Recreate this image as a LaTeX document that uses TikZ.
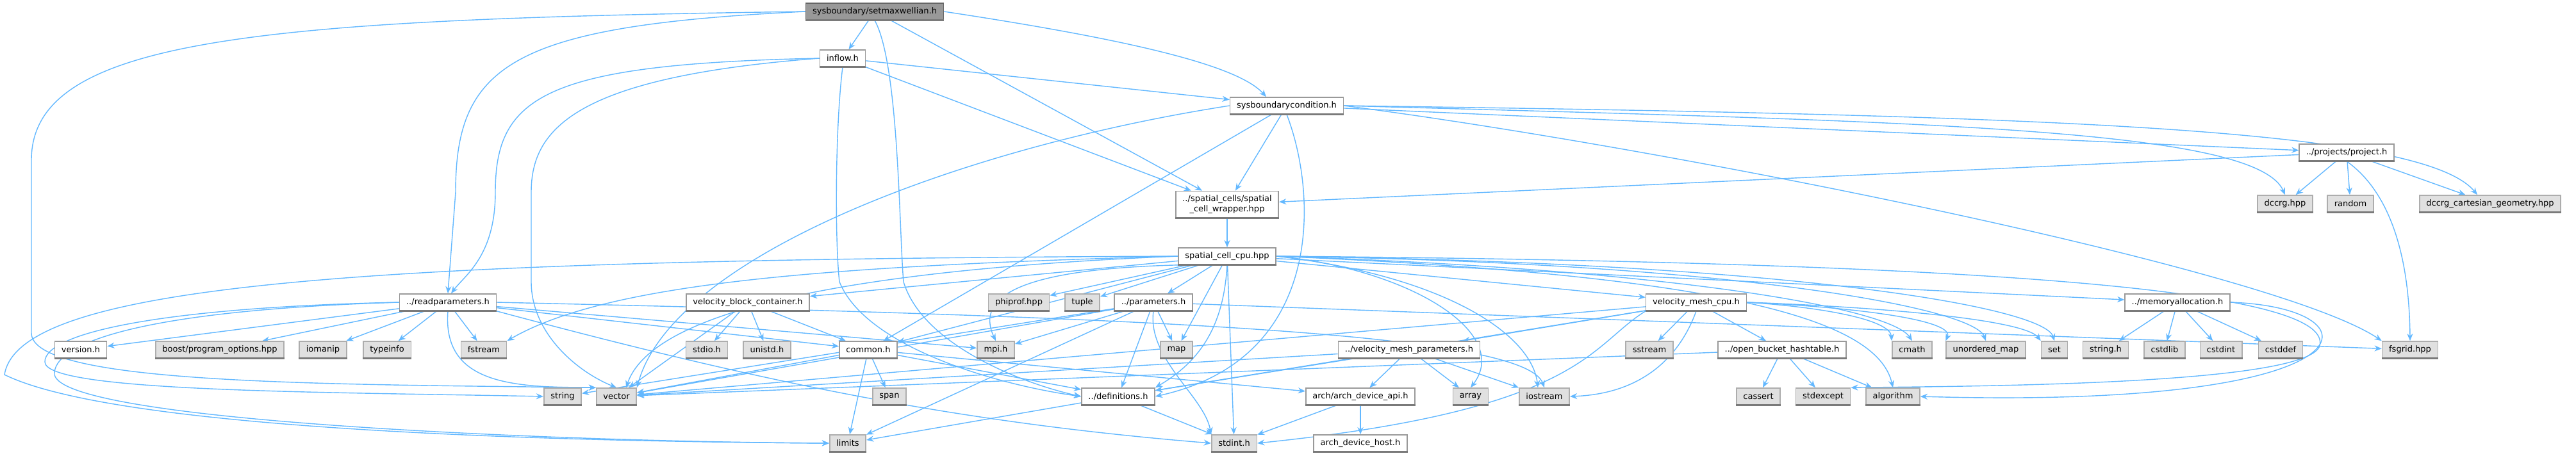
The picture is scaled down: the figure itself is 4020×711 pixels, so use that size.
\documentclass[tikz,border=0pt]{standalone}
\usepackage{fontspec}
\setmainfont{DejaVu Sans}
\usetikzlibrary{arrows.meta,calc}
\definecolor{edgeblue}{HTML}{63B8FF}
\definecolor{boxline}{HTML}{999999}
\definecolor{boxshade}{HTML}{7A7A7A}
\definecolor{extfill}{HTML}{E0E0E0}
\definecolor{rootfill}{HTML}{999999}
\definecolor{rootline}{HTML}{666666}
\pgfdeclarelayer{edges}
\pgfsetlayers{edges,main}
\newcommand{\boxfont}{\fontsize{3.7}{4.4}\selectfont}
\begin{document}
\begin{tikzpicture}[x=0.01cm,y=-0.01cm,>={Stealth[length=3.2pt,width=2.6pt]},
	box/.style={rectangle,font=\boxfont,inner xsep=3pt,inner ysep=0pt,minimum height=7.4pt,line width=0.45pt,
		append after command={(\tikzlastnode.south west) edge[-,draw=boxshade,line width=0.9pt] (\tikzlastnode.south east)}},
	file/.style={box,draw=boxline,fill=white},
	ext/.style={box,draw=boxline!80,fill=extfill},
	root/.style={box,draw=rootline,fill=rootfill},
	dep/.style={->,draw=edgeblue,line width=0.4pt}]
	\useasboundingbox (0,0) rectangle (4020,711);
	% top of the graph
	\node[root] (smw) at (1365,18) {sysboundary/setmaxwellian.h};
	\node[file] (inflow) at (1315,91) {inflow.h};
	\node[file] (sbc) at (2008,165) {sysboundarycondition.h};
	\node[file,align=center,minimum height=11.7pt,inner ysep=1.2pt] (wrapper) at (1915,319) {../spatial\_cells/spatial\\\_cell\_wrapper.hpp};
	\node[file] (project) at (3662,238) {../projects/project.h};
	\node[ext] (dccrg) at (3566,318) {dccrg.hpp};
	\node[ext] (random) at (3668,318) {random};
	\node[ext] (dccrgcart) at (3886,318) {dccrg\_cartesian\_geometry.hpp};
	\node[file] (scc) at (1915,400) {spatial\_cell\_cpu.hpp};
	% second row
	\node[file] (rp) at (699,472) {../readparameters.h};
	\node[file] (vbc) at (1167,472) {velocity\_block\_container.h};
	\node[ext] (phiprof) at (1590,472) {phiprof.hpp};
	\node[ext] (tuple) at (1689,472) {tuple};
	\node[file] (params) at (1800,472) {../parameters.h};
	\node[file] (vmcpu) at (2647,472) {velocity\_mesh\_cpu.h};
	\node[file] (memalloc) at (3398,472) {../memoryallocation.h};
	% third row
	\node[file] (version) at (126,546) {version.h};
	\node[ext] (boost) at (343,546) {boost/program\_options.hpp};
	\node[ext] (iomanip) at (504,546) {iomanip};
	\node[ext] (typeinfo) at (604,546) {typeinfo};
	\node[ext] (fstream) at (755,546) {fstream};
	\node[ext] (stdio) at (1103,546) {stdio.h};
	\node[ext] (unistd) at (1197,546) {unistd.h};
	\node[file] (common) at (1355,546) {common.h};
	\node[ext] (mpi) at (1554,546) {mpi.h};
	\node[ext] (map) at (1836,546) {map};
	\node[file] (vmparams) at (2199,546) {../velocity\_mesh\_parameters.h};
	\node[ext] (sstream) at (2574,546) {sstream};
	\node[file] (obh) at (2781,546) {../open\_bucket\_hashtable.h};
	\node[ext] (cmath) at (2984,546) {cmath};
	\node[ext] (umap) at (3099,546) {unordered\_map};
	\node[ext] (set) at (3206,546) {set};
	\node[ext] (stringh) at (3286,546) {string.h};
	\node[ext] (cstdlib) at (3378,546) {cstdlib};
	\node[ext] (cstdint) at (3466,546) {cstdint};
	\node[ext] (cstddef) at (3559,546) {cstddef};
	\node[ext] (fsgrid) at (3761,546) {fsgrid.hpp};
	% fourth row
	\node[ext] (string) at (878,619) {string};
	\node[ext] (vector) at (962,619) {vector};
	\node[ext] (span) at (1388,619) {span};
	\node[file] (defs) at (1745,619) {../definitions.h};
	\node[file] (archapi) at (2123,619) {arch/arch\_device\_api.h};
	\node[ext] (array) at (2295,619) {array};
	\node[ext] (iostream) at (2410,619) {iostream};
	\node[ext] (cassert) at (2744,619) {cassert};
	\node[ext] (stdexcept) at (2845,619) {stdexcept};
	\node[ext] (algorithm) at (2954,619) {algorithm};
	% bottom row
	\node[ext] (limits) at (1323,692) {limits};
	\node[ext] (stdint) at (1926,692) {stdint.h};
	\node[file] (archhost) at (2123,692) {arch\_device\_host.h};
	\begin{pgfonlayer}{edges}
	\foreach \a/\b in {smw/inflow,smw/wrapper,inflow/sbc,inflow/wrapper,sbc/wrapper,sbc/common,sbc/project,
		project/wrapper,project/dccrg,project/random,project/dccrgcart,wrapper/scc,
		scc/vbc,scc/common,scc/phiprof,scc/tuple,scc/params,scc/map,scc/stdint,scc/vmcpu,scc/memalloc,
		rp/version,rp/boost,rp/iomanip,rp/typeinfo,rp/fstream,rp/common,rp/mpi,
		vbc/stdio,vbc/unistd,vbc/common,vbc/vector,
		common/limits,common/span,common/vector,common/defs,common/archapi,
		params/mpi,params/string,params/vector,params/limits,params/defs,params/map,params/fsgrid,
		vmcpu/vmparams,vmcpu/sstream,vmcpu/obh,vmcpu/vector,vmcpu/defs,
		vmparams/vector,vmparams/defs,vmparams/archapi,vmparams/array,vmparams/iostream,
		obh/cassert,obh/stdexcept,obh/algorithm,obh/vector,
		defs/limits,defs/stdint,archapi/stdint,archapi/archhost,
		memalloc/stringh,memalloc/cstdlib,memalloc/cstdint,memalloc/cstddef}
		\draw[dep] (\a) -- (\b);
	% curved dependencies
	\draw[dep] (smw.east) .. controls (1750,60) and (1930,100) .. ($(sbc.north)+(-32,0)$);
	\draw[dep] (smw.west) .. controls (400,30) and (49,60) .. (49,250) -- (49,520) .. controls (49,600) and (500,600) .. (vector.north west);
	\draw[dep] (smw.west) .. controls (800,40) and (711,100) .. (711,300) -- (rp.north);
	\draw[dep] (smw.south) .. controls (1403,100) and (1403,360) .. (1410,440) .. controls (1440,540) and (1600,600) .. (defs.west);
	\draw[dep] (inflow.west) .. controls (850,100) and (773,150) .. (773,300) .. controls (773,400) and (725,430) .. (rp.70);
	\draw[dep] (inflow.west) .. controls (900,120) and (829,200) .. (829,300) -- (829,440) .. controls (829,520) and (900,580) .. (vector.north);
	\draw[dep] (inflow.south) .. controls (1303,200) and (1303,380) .. (1310,440) .. controls (1350,540) and (1550,600) .. (defs.west);
	\draw[dep] (sbc.west) .. controls (1500,230) and (1050,400) .. (vector.north east);
	\draw[dep] (sbc.south) .. controls (2055,300) and (2070,560) .. (defs.east);
	\draw[dep] (sbc.east) .. controls (3000,190) and (3520,200) .. (dccrg.north);
	\draw[dep] (sbc.east) .. controls (3200,180) and (3780,200) .. ($(dccrgcart.north)+(-20,0)$);
	\draw[dep] (sbc.east) .. controls (2600,230) and (3550,420) .. (fsgrid.north west);
	\draw[dep] (project.south) .. controls (3730,300) and (3760,400) .. (fsgrid.north);
	\draw[dep] (scc.west) .. controls (600,405) and (30,440) .. (7,585) .. controls (200,680) and (1000,690) .. (limits.west);
	\draw[dep] (scc.west) .. controls (1350,420) and (1020,480) .. ($(vector.north)+(15,0)$);
	\draw[dep] (scc.west) .. controls (1300,415) and (950,440) .. (fstream.north east);
	\draw[dep] (scc.south west) .. controls (1600,420) and (1520,460) .. (mpi.north);
	\draw[dep] (scc.south) .. controls (1910,500) and (1880,560) .. (defs.north east);
	\draw[dep] (scc.east) .. controls (2200,420) and (2360,520) .. (array.north);
	\draw[dep] (scc.east) .. controls (2250,430) and (2390,520) .. ($(iostream.north)+(-10,0)$);
	\draw[dep] (scc.east) .. controls (2600,420) and (2950,480) .. (cmath.north);
	\draw[dep] (scc.east) .. controls (2700,410) and (3080,480) .. (umap.north);
	\draw[dep] (scc.east) .. controls (2800,410) and (3190,480) .. (set.north);
	\draw[dep] (scc.east) .. controls (2700,430) and (2930,500) .. (algorithm.north);
	\draw[dep] (scc.east) .. controls (3200,410) and (3640,460) .. (3620,540) .. controls (3600,600) and (3100,603) .. (stdexcept.north east);
	\draw[dep] (rp.west) .. controls (250,480) and (70,520) .. (70,565) .. controls (70,612) and (500,612) .. (string.west);
	\draw[dep] (rp.west) .. controls (200,485) and (82,540) .. (85,585) .. controls (100,660) and (900,690) .. (limits.west);
	\draw[dep] (rp.south) .. controls (690,600) and (800,605) .. (vector.north west);
	\draw[dep] (rp.east) .. controls (1800,495) and (2380,520) .. (iostream.north);
	\draw[dep] (rp.south east) .. controls (1200,600) and (1500,660) .. (stdint.west);
	\draw[dep] (params.south) .. controls (1790,560) and (1880,620) .. (stdint.north west);
	\draw[dep] (vmcpu.south west) .. controls (2480,540) and (2470,640) .. (stdint.east);
	\draw[dep] (vmcpu.south) .. controls (2620,560) and (2560,615) .. (iostream.east);
	\draw[dep] (vmcpu.east) .. controls (2850,480) and (2950,500) .. (cmath.north west);
	\draw[dep] (vmcpu.east) .. controls (2900,480) and (3050,500) .. (umap.north west);
	\draw[dep] (vmcpu.east) .. controls (2950,480) and (3160,500) .. (set.north west);
	\draw[dep] (memalloc.east) .. controls (3720,480) and (3720,640) .. (algorithm.east);
	\end{pgfonlayer}
\end{tikzpicture}
\end{document}
